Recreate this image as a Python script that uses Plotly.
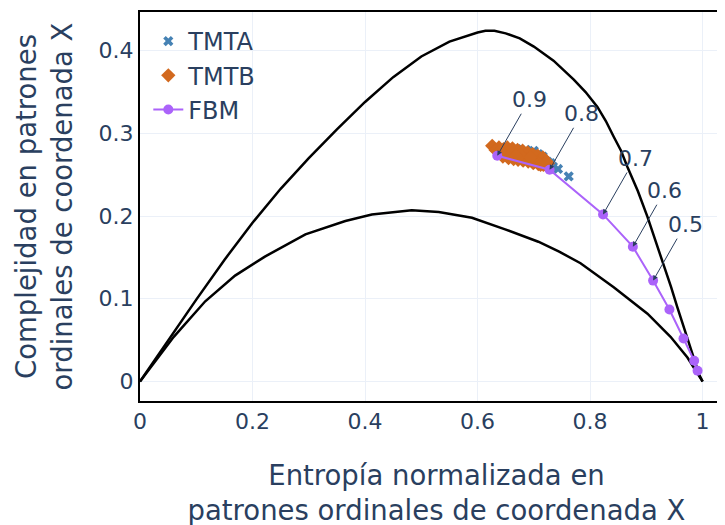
import plotly.graph_objects as go

# Boundary curves (max / min complexity)
cmax_x = [0.0, 0.05, 0.1, 0.15, 0.2, 0.25, 0.3, 0.35, 0.4, 0.45, 0.5, 0.55, 0.58, 0.6, 0.614, 0.63, 0.65, 0.675, 0.7,
          0.735, 0.771, 0.792, 0.813, 0.828, 0.842, 0.855, 0.866, 0.885, 0.902, 0.917, 0.931, 0.944, 0.955,
          0.965, 0.973, 0.981, 0.988, 0.994, 1.0]
cmax_y = [0.0, 0.050, 0.099, 0.147, 0.192, 0.233, 0.270, 0.305, 0.338, 0.368, 0.393, 0.411, 0.418, 0.422, 0.424, 0.424,
          0.421, 0.415, 0.405, 0.388, 0.365, 0.350, 0.332, 0.315, 0.296, 0.279, 0.260, 0.230, 0.199, 0.169,
          0.139, 0.114, 0.090, 0.069, 0.050, 0.033, 0.018, 0.008, 0.0]

cmin_x = [0.0, 0.06, 0.116, 0.169, 0.222, 0.294, 0.365, 0.412, 0.483, 0.531, 0.590, 0.649, 0.708,
          0.745, 0.783, 0.842, 0.902, 0.943, 0.973, 0.988, 1.0]
cmin_y = [0.0, 0.054, 0.097, 0.128, 0.151, 0.178, 0.194, 0.202, 0.207, 0.205, 0.198, 0.184, 0.169,
          0.157, 0.143, 0.114, 0.082, 0.054, 0.029, 0.013, 0.0]

# TMTA samples
tmta_x = [0.655, 0.662, 0.668, 0.673, 0.678, 0.683, 0.688, 0.692, 0.696, 0.700, 0.703, 0.706, 0.709,
          0.712, 0.715, 0.718, 0.721, 0.724, 0.727, 0.730, 0.734, 0.743, 0.762, 0.670, 0.686, 0.699,
          0.708, 0.716, 0.664, 0.694]
tmta_y = [0.278, 0.276, 0.279, 0.274, 0.277, 0.272, 0.275, 0.270, 0.273, 0.279, 0.268, 0.272, 0.266,
          0.270, 0.265, 0.268, 0.263, 0.266, 0.262, 0.264, 0.260, 0.257, 0.248, 0.281, 0.280, 0.276,
          0.275, 0.272, 0.271, 0.267]

# TMTB samples
tmtb_x = [0.626, 0.632, 0.638, 0.642, 0.646, 0.650, 0.653, 0.656, 0.659, 0.662, 0.665, 0.668, 0.671,
          0.674, 0.677, 0.680, 0.683, 0.686, 0.689, 0.692, 0.695, 0.698, 0.701, 0.704, 0.707, 0.710,
          0.713, 0.716, 0.719, 0.722, 0.645, 0.655, 0.664, 0.672, 0.681, 0.690, 0.699, 0.708, 0.717,
          0.660, 0.676, 0.694, 0.712, 0.725, 0.640, 0.668]
tmtb_y = [0.285, 0.280, 0.283, 0.276, 0.281, 0.278, 0.283, 0.274, 0.279, 0.282, 0.272, 0.277, 0.280,
          0.271, 0.276, 0.279, 0.270, 0.274, 0.277, 0.268, 0.272, 0.275, 0.266, 0.270, 0.273, 0.264,
          0.268, 0.271, 0.263, 0.266, 0.272, 0.270, 0.269, 0.268, 0.267, 0.266, 0.264, 0.263, 0.262,
          0.276, 0.274, 0.271, 0.262, 0.264, 0.279, 0.273]

# FBM reference points (Hurst exponents)
fbm_h = [0.9, 0.8, 0.7, 0.6, 0.5, 0.4, 0.3, 0.2, 0.1]
fbm_x = [0.635, 0.728, 0.823, 0.876, 0.912, 0.941, 0.966, 0.985, 0.991]
fbm_y = [0.273, 0.256, 0.202, 0.163, 0.122, 0.087, 0.052, 0.025, 0.013]
labelled_h = ["0.9", "0.8", "0.7", "0.6", "0.5"]

FONT = "DejaVu Sans, Verdana, sans-serif"

fig = go.Figure()
fig.add_trace(go.Scatter(x=cmax_x, y=cmax_y, mode="lines", line=dict(color="black", width=2.5),
                         showlegend=False, hoverinfo="skip"))
fig.add_trace(go.Scatter(x=cmin_x, y=cmin_y, mode="lines", line=dict(color="black", width=2.5),
                         showlegend=False, hoverinfo="skip"))
fig.add_trace(go.Scatter(x=tmta_x, y=tmta_y, mode="markers", name="TMTA",
                         marker=dict(symbol="x", size=9, color="#4682B4")))
fig.add_trace(go.Scatter(x=tmtb_x, y=tmtb_y, mode="markers", name="TMTB",
                         marker=dict(symbol="diamond", size=11, color="#D2691E")))
fig.add_trace(go.Scatter(x=fbm_x, y=fbm_y, mode="lines+markers", name="FBM",
                         line=dict(color="#AB63FA", width=2), marker=dict(size=10, color="#AB63FA")))

for lab in labelled_h:
    i = fbm_h.index(float(lab))
    fig.add_annotation(x=fbm_x[i], y=fbm_y[i], text=lab, showarrow=True, ax=32, ay=-56,
                       arrowhead=2, arrowwidth=1, arrowcolor="#2a3f5f",
                       font=dict(size=22, family=FONT, color="#2a3f5f"))

fig.update_layout(
    template="plotly_white",
    width=725, height=525,
    margin=dict(l=132, r=0, t=4, b=132),
    font=dict(family=FONT, color="#2a3f5f"),
    legend=dict(x=0.014, y=0.982, xanchor="left", yanchor="top", bgcolor="rgba(0,0,0,0)",
                font=dict(size=24, family=FONT)),
    xaxis=dict(range=[0, 1.054], showline=True, linecolor="black", linewidth=2, mirror=True,
               automargin=False,
               tickvals=[0, 0.2, 0.4, 0.6, 0.8, 1], ticktext=["0", "0.2", "0.4", "0.6", "0.8", "1"],
               tickfont=dict(size=22),
               title=dict(text="Entropía normalizada en<br>patrones ordinales de coordenada X",
                          font=dict(size=27.5), standoff=32),
               zeroline=False),
    yaxis=dict(range=[-0.0236, 0.4468], showline=True, linecolor="black", linewidth=2, mirror=True,
               automargin=False,
               tickvals=[0, 0.1, 0.2, 0.3, 0.4], ticktext=["0", "0.1", "0.2", "0.3", "0.4"],
               tickfont=dict(size=22),
               title=dict(text="Complejidad en patrones<br>ordinales de coordenada X",
                          font=dict(size=27.5), standoff=18),
               zeroline=False),
)

fig.write_html("out.html")
